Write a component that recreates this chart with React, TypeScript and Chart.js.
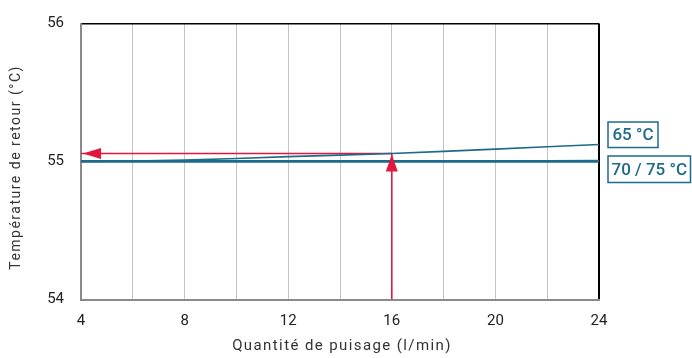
import React, { useEffect, useRef } from "react";
import { Chart, registerables } from "chart.js";

Chart.register(...registerables);

const flowRates = [4, 8, 12, 16, 20, 24];
const return65 = [55.0, 55.01, 55.035, 55.058, 55.09, 55.123];
const return70 = [55.004, 55.004, 55.004, 55.004, 55.004, 55.005];
const return75 = [54.998, 54.998, 54.998, 54.998, 54.998, 54.999];
const readoutX = 16;
const readoutY = 55.058;
const yTicks = [54, 55, 56];
const label65 = "65 °C";
const label7075 = "70 / 75 °C";
const xTitle = "Quantité de puisage (l/min)";
const yTitle = "Température de retour (°C)";

const BLUE = "#1d6a8b";
const RED = "#e2173f";

export default function App() {
  const ref = useRef<HTMLCanvasElement>(null);
  useEffect(() => {
    if (!ref.current) return;
    const pts = (ys: number[]) => flowRates.map((x, i) => ({ x, y: ys[i] }));
    const overlay = {
      id: "overlay",
      afterDatasetsDraw(chart: any) {
        const { ctx, scales, chartArea } = chart;
        const xs = scales.x, ys = scales.y;
        const px = xs.getPixelForValue(readoutX);
        const py = ys.getPixelForValue(readoutY);
        const left = xs.getPixelForValue(flowRates[0]);
        ctx.save();
        ctx.fillStyle = RED;
        ctx.beginPath();
        ctx.moveTo(left + 2, py);
        ctx.lineTo(left + 20, py - 5.5);
        ctx.lineTo(left + 20, py + 5.5);
        ctx.closePath();
        ctx.fill();
        ctx.beginPath();
        ctx.moveTo(px, py + 1);
        ctx.lineTo(px - 6, py + 18);
        ctx.lineTo(px + 6, py + 18);
        ctx.closePath();
        ctx.fill();
        ctx.restore();

        ctx.save();
        ctx.strokeStyle = BLUE;
        ctx.fillStyle = BLUE;
        ctx.lineWidth = 1.5;
        ctx.font = "500 17px Roboto";
        ctx.textAlign = "center";
        ctx.textBaseline = "middle";
        const bx = chartArea.right + 9;
        const y65 = ys.getPixelForValue(return65[return65.length - 1]);
        const y70 = ys.getPixelForValue(55);
        const boxes = [
          { t: label65, x: bx, y: y65 - 22.5, w: 50, h: 25.5 },
          { t: label7075, x: bx, y: y70 - 5.5, w: 82.5, h: 26.5 },
        ];
        boxes.forEach((b) => {
          ctx.strokeRect(b.x, b.y, b.w, b.h);
          ctx.fillText(b.t, b.x + b.w / 2, b.y + b.h / 2 + 1);
        });
        ctx.restore();

        ctx.save();
        ctx.fillStyle = "#333";
        ctx.textAlign = "center";
        ctx.textBaseline = "middle";
        (ctx as any).letterSpacing = "1.4px";
        ctx.font = "15px Roboto";
        ctx.fillText(xTitle, (chartArea.left + chartArea.right) / 2 + 2, 346);
        ctx.translate(16, (chartArea.top + chartArea.bottom) / 2 + 6);
        ctx.rotate(-Math.PI / 2);
        ctx.font = "14px Roboto";
        (ctx as any).letterSpacing = "1.5px";
        ctx.fillText(yTitle, 0, 0);
        ctx.restore();
      },
    };
    const chart = new Chart(ref.current, {
      type: "line",
      data: {
        datasets: [
          { label: "75", data: pts(return75), borderColor: BLUE, borderWidth: 2, pointRadius: 0, tension: 0.3 },
          { label: "70", data: pts(return70), borderColor: BLUE, borderWidth: 2, pointRadius: 0, tension: 0.3 },
          { label: "65", data: pts(return65), borderColor: BLUE, borderWidth: 1.6, pointRadius: 0, tension: 0.3 },
          {
            label: "h",
            data: [{ x: flowRates[0], y: readoutY }, { x: readoutX, y: readoutY }],
            borderColor: RED, borderWidth: 1.6, pointRadius: 0,
          },
          {
            label: "v",
            data: [{ x: readoutX, y: yTicks[0] }, { x: readoutX, y: readoutY }],
            borderColor: RED, borderWidth: 1.6, pointRadius: 0,
          },
        ],
      },
      options: {
        animation: false,
        responsive: false,
        layout: { padding: { top: 23.5, right: 93, left: 0, bottom: 0 } },
        plugins: { legend: { display: false }, tooltip: { enabled: false } },
        scales: {
          x: {
            type: "linear",
            min: 4,
            max: 24,
            afterFit: (s: any) => { s.height = 58.5; s.paddingLeft = 0; s.paddingRight = 0; },
            border: { color: "#8a8a8a", width: 2 },
            grid: {
              drawTicks: false,
              color: (c: any) => (c.tick.value === 24 ? "#000" : c.tick.value === 4 ? "rgba(0,0,0,0)" : "#c4c4c4"),
              lineWidth: (c: any) => (c.tick.value === 24 ? 2 : 1),
            },
            ticks: {
              stepSize: 2,
              autoSkip: false,
              maxRotation: 0,
              padding: 12.5,
              color: "#222",
              font: { family: "Roboto", size: 15 },
              callback: (v: any) => (v % 4 === 0 ? String(v) : ""),
            },
          },
          y: {
            min: 54,
            max: 56,
            afterFit: (s: any) => { s.width = 81; s.paddingTop = 0; s.paddingBottom = 0; },
            afterBuildTicks: (s: any) => { s.ticks = yTicks.map((v) => ({ value: v })); },
            border: { color: "#8a8a8a", width: 2 },
            grid: {
              drawTicks: false,
              color: (c: any) => (c.tick.value === 56 ? "#000" : "rgba(0,0,0,0)"),
              lineWidth: 1.5,
            },
            ticks: {
              padding: 17,
              color: "#222",
              font: { family: "Roboto", size: 15 },
            },
          },
        },
      },
      plugins: [overlay],
    });
    return () => chart.destroy();
  }, []);
  return (
    <div style={{ position: "absolute", left: 0, top: 0, width: 692, height: 358, background: "#fff" }}>
      <canvas ref={ref} width={692} height={358} />
    </div>
  );
}
